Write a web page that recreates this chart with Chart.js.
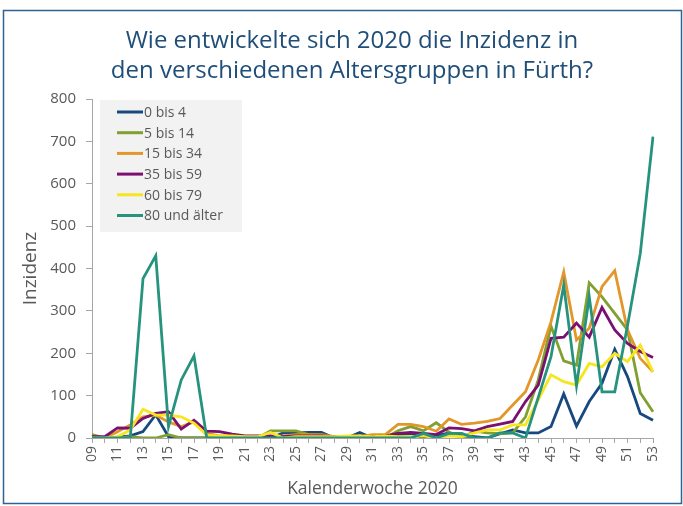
<!DOCTYPE html>
<html>
<head>
<meta charset="utf-8">
<script src="https://cdn.jsdelivr.net/npm/chart.js@4"></script>
<style>
  html, body { margin: 0; padding: 0; background: #fff; }
  #wrap { width: 683px; height: 506px; }
</style>
</head>
<body>
<div id="wrap"><canvas id="inzidenz" width="683" height="506"></canvas></div>
<script>
// Kalenderwochen 09 bis 53
const WEEKS = ["09", "10", "11", "12", "13", "14", "15", "16", "17", "18", "19", "20", "21", "22", "23",
  "24", "25", "26", "27", "28", "29", "30", "31", "32", "33", "34", "35", "36", "37", "38", "39",
  "40", "41", "42", "43", "44", "45", "46", "47", "48", "49", "50", "51", "52", "53"];

const GROUPS = ["0 bis 4", "5 bis 14", "15 bis 34", "35 bis 59", "60 bis 79", "80 und älter"];
const COLORS = ["#17487f", "#80a030", "#e3962a", "#7a1070", "#f6e51f", "#26937f"];

const AGE_0_4 = [0, 0, 2, 5, 15, 55, 3, 0, 0, 0, 0, 0, 0, 0, 0,
  12, 12, 13, 13, 0, 0, 13, 0, 0, 8, 10, 0, 5, 12, 5, 3,
  0, 10, 19, 12, 12, 27, 104, 28, 86, 129, 209, 145, 58, 42];
const AGE_5_14 = [8, 0, 0, 3, 0, 0, 8, 0, 0, 0, 0, 0, 0, 0, 17,
  17, 17, 8, 5, 0, 0, 0, 0, 0, 17, 27, 17, 36, 14, 0, 16,
  12, 10, 12, 50, 137, 264, 182, 172, 366, 333, 294, 255, 107, 62];
const AGE_15_34 = [0, 0, 15, 31, 50, 54, 38, 27, 38, 11, 5, 5, 3, 3, 3,
  5, 8, 8, 8, 3, 3, 3, 8, 8, 32, 32, 27, 16, 45, 32, 35,
  39, 46, 78, 109, 184, 274, 392, 231, 259, 357, 395, 255, 188, 156];
const AGE_35_59 = [3, 3, 24, 23, 46, 58, 62, 21, 42, 16, 15, 9, 5, 5, 5,
  3, 5, 5, 5, 3, 3, 5, 3, 5, 11, 13, 11, 8, 24, 22, 17,
  27, 33, 39, 86, 125, 235, 238, 271, 238, 308, 255, 223, 204, 190];
const AGE_60_79 = [0, 0, 3, 19, 68, 54, 54, 50, 35, 7, 5, 5, 3, 3, 13,
  0, 3, 3, 3, 3, 5, 5, 3, 5, 3, 3, 5, 0, 5, 3, 12,
  19, 19, 31, 31, 90, 149, 133, 125, 176, 168, 200, 180, 219, 156];
const AGE_80_PLUS = [0, 0, 0, 0, 376, 430, 27, 137, 194, 0, 0, 0, 0, 0, 0,
  0, 0, 0, 0, 0, 0, 0, 0, 0, 0, 0, 11, 0, 11, 11, 0,
  0, 12, 12, 0, 96, 192, 361, 123, 333, 109, 109, 265, 435, 711];

const SERIES = [AGE_0_4, AGE_5_14, AGE_15_34, AGE_35_59, AGE_60_79, AGE_80_PLUS];

const Y_MAX = 800;
const Y_STEP = 100;

const TITLE_LINES = ["Wie entwickelte sich 2020 die Inzidenz in", "den verschiedenen Altersgruppen in Fürth?"];
const X_TITLE = "Kalenderwoche 2020";
const Y_TITLE = "Inzidenz";

const FONT = "'Open Sans', 'Noto Sans', sans-serif";
const GREY = "#595959";

// frame around the whole chart + the two-line heading
const framePlugin = {
  id: "frame",
  beforeDraw(chart) {
    const ctx = chart.ctx;
    ctx.save();
    ctx.fillStyle = "#fff";
    ctx.fillRect(0, 0, chart.width, chart.height);
    ctx.strokeStyle = "#2c6294";
    ctx.lineWidth = 1.5;
    ctx.strokeRect(3.5, 10.5, 678, 493);

    ctx.fillStyle = "#1f4e79";
    ctx.font = "24px " + FONT;
    ctx.textAlign = "center";
    ctx.textBaseline = "middle";
    TITLE_LINES.forEach((t, i) => ctx.fillText(t, 352, 41 + i * 30));
    ctx.restore();
  },
};

// legend inside the plot, grey box top left
const boxLegend = {
  id: "boxLegend",
  afterDatasetsDraw(chart) {
    const ctx = chart.ctx;
    const x0 = 100, y0 = 100, w = 142, h = 132;
    ctx.save();
    ctx.fillStyle = "#f2f2f2";
    ctx.fillRect(x0, y0, w, h);
    ctx.font = "14px " + FONT;
    ctx.textBaseline = "middle";
    chart.data.datasets.forEach((ds, i) => {
      const y = y0 + 12 + i * 20.7;
      ctx.strokeStyle = ds.borderColor;
      ctx.lineWidth = 3;
      ctx.beginPath();
      ctx.moveTo(x0 + 17, y);
      ctx.lineTo(x0 + 43, y);
      ctx.stroke();
      ctx.fillStyle = GREY;
      ctx.fillText(ds.label, x0 + 44, y + 1);
    });
    ctx.restore();
  },
};

const ctx = document.getElementById("inzidenz");
new Chart(ctx, {
  type: "line",
  data: {
    labels: WEEKS,
    datasets: GROUPS.map((g, i) => ({
      label: g,
      data: SERIES[i],
      borderColor: COLORS[i],
      backgroundColor: COLORS[i],
      borderWidth: 2.8,
      pointRadius: 0,
      tension: 0,
      fill: false,
      order: GROUPS.length - i,
    })),
  },
  options: {
    responsive: false,
    animation: false,
    layout: { padding: { left: 0, right: 30, top: 99, bottom: 0 } },
    plugins: {
      legend: { display: false },
      tooltip: { enabled: false },
      title: { display: false },
    },
    scales: {
      x: {
        offset: false,
        afterFit(s) { s.height = 68; },
        grid: { drawOnChartArea: false, drawTicks: true, tickLength: 5, color: "#a6a6a6" },
        border: { display: true, color: "#a6a6a6" },
        ticks: {
          autoSkip: false,
          maxRotation: 90,
          minRotation: 90,
          padding: 3,
          color: GREY,
          font: { family: FONT, size: 14 },
          callback(v, i) { return i % 2 === 0 ? WEEKS[i] : ""; },
        },
        title: {
          display: true,
          text: X_TITLE,
          color: GREY,
          font: { family: FONT, size: 17.5 },
          padding: { top: 0, bottom: 6 },
        },
      },
      y: {
        min: 0,
        max: Y_MAX,
        afterFit(s) { s.width = 92; },
        grid: { drawOnChartArea: false, drawTicks: true, tickLength: 6, color: "#a6a6a6" },
        border: { display: true, color: "#a6a6a6" },
        ticks: {
          stepSize: Y_STEP,
          padding: 10,
          color: GREY,
          font: { family: FONT, size: 15 },
        },
        title: {
          display: true,
          text: Y_TITLE,
          color: GREY,
          font: { family: FONT, size: 19 },
          padding: { top: 19, bottom: 0 },
        },
      },
    },
  },
  plugins: [framePlugin, boxLegend],
});
</script>
</body>
</html>
